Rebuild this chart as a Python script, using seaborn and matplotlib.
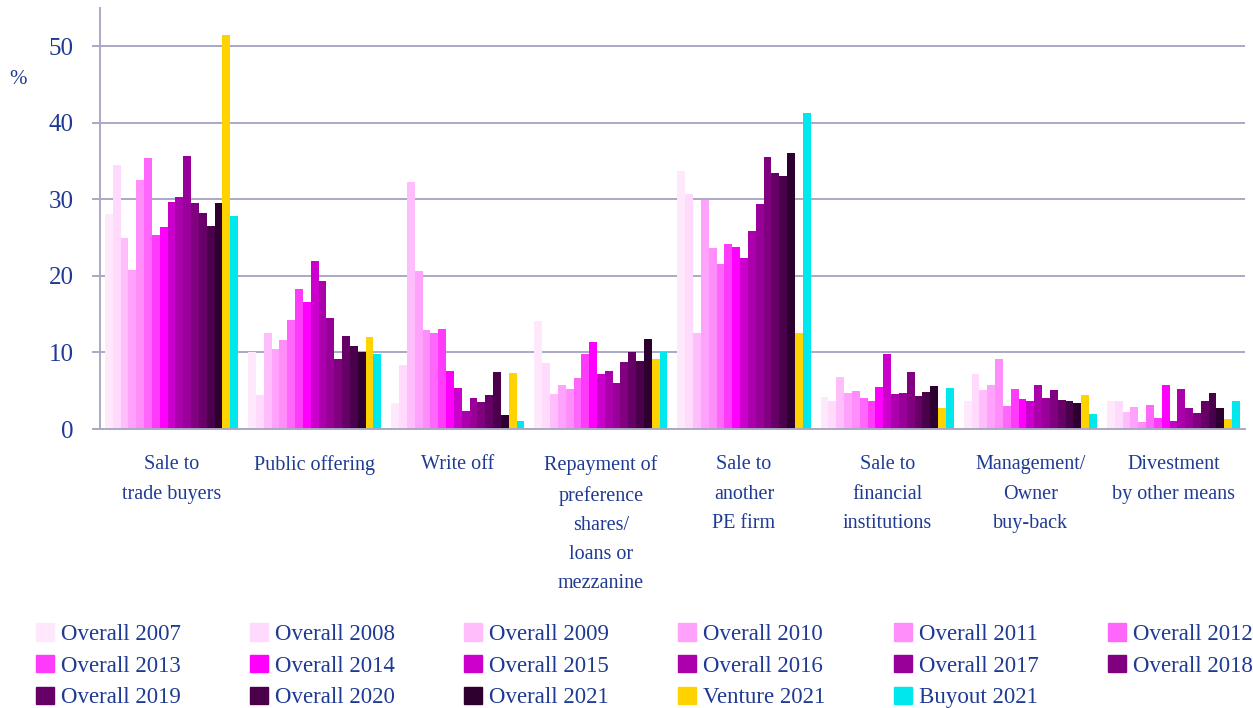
import matplotlib
matplotlib.use("Agg")
import matplotlib.pyplot as plt
import matplotlib.patches as mpatches
import numpy as np
import pandas as pd
import seaborn as sns

# ── Data ──────────────────────────────────────────────────────────────────────

categories = [
    "Sale to\ntrade buyers",
    "Public offering",
    "Write off",
    "Repayment of\npreference\nshares/\nloans or\nmezzanine",
    "Sale to\nanother\nPE firm",
    "Sale to\nfinancial\ninstitutions",
    "Management/\nOwner\nbuy-back",
    "Divestment\nby other means",
]

series = [
    "Overall 2007", "Overall 2008", "Overall 2009", "Overall 2010",
    "Overall 2011", "Overall 2012", "Overall 2013", "Overall 2014",
    "Overall 2015", "Overall 2016", "Overall 2017", "Overall 2018",
    "Overall 2019", "Overall 2020", "Overall 2021", "Venture 2021",
    "Buyout 2021",
]

# one list per exit route, one value per series (same order as `series`)
trade_buyers = [28.1, 34.5, 24.9, 20.8, 32.5, 35.4, 25.3, 26.4, 29.6, 30.3, 35.7, 29.5, 28.2, 26.5, 29.5, 51.5, 27.8]
public_offer = [10.0, 4.4, 12.5, 10.5, 11.6, 14.3, 18.3, 16.6, 21.9, 19.3, 14.5, 9.1, 12.1, 10.9, 10.1, 12.0, 9.8]
write_off    = [3.4, 8.3, 32.3, 20.6, 12.9, 12.6, 13.0, 7.6, 5.3, 2.3, 4.0, 3.5, 4.4, 7.4, 1.8, 7.3, 1.0]
repayment    = [14.1, 8.6, 4.6, 5.7, 5.2, 6.7, 9.8, 11.4, 7.2, 7.6, 6.0, 8.7, 10.0, 8.9, 11.8, 9.2, 10.0]
pe_firm      = [33.7, 30.7, 12.5, 29.9, 23.6, 21.5, 24.1, 23.8, 22.3, 25.9, 29.4, 35.5, 33.4, 33.0, 36.1, 12.6, 41.2]
fin_inst     = [4.2, 3.6, 6.8, 4.7, 5.0, 4.1, 3.7, 5.5, 9.8, 4.6, 4.7, 7.4, 4.3, 4.8, 5.6, 2.7, 5.4]
buy_back     = [3.7, 7.2, 5.1, 5.7, 9.2, 3.0, 5.2, 3.9, 3.7, 5.8, 4.0, 5.1, 3.8, 3.6, 3.4, 4.4, 2.0]
other_means  = [3.7, 3.7, 2.2, 2.9, 0.9, 3.2, 1.4, 5.8, 1.0, 5.2, 2.7, 2.1, 3.7, 4.7, 2.7, 1.3, 3.6]

colors = [
    "#FFE8FC", "#FFDAFC", "#FFBEFB", "#FFA2FB", "#FF8EFB", "#FF66FC",
    "#FF3BFB", "#FF00FF", "#CC00CC", "#AB00AB", "#990099", "#800080",
    "#660066", "#4B004B", "#2E0030", "#FFD300", "#00E8EE",
]

TEXT = "#1F3A93"
AXIS = "#A9A9C6"

# ── Build long table ──────────────────────────────────────────────────────────

values = [trade_buyers, public_offer, write_off, repayment,
          pe_firm, fin_inst, buy_back, other_means]
rows = []
for cat, vals in zip(categories, values):
    for s, v in zip(series, vals):
        rows.append({"route": cat, "series": s, "pct": v})
df = pd.DataFrame(rows)

# ── Plot ──────────────────────────────────────────────────────────────────────

sns.set_theme(style="white")
plt.rcParams["font.family"] = ["Liberation Serif", "DejaVu Serif"]

fig = plt.figure(figsize=(12.53, 7.08), dpi=100)
ax = fig.add_axes([0.0798, 0.394, 0.9138, 0.595])

sns.barplot(
    data=df, x="route", y="pct", hue="series",
    order=categories, hue_order=series, palette=colors,
    width=0.93, gap=0, saturation=1, linewidth=0,
    errorbar=None, legend=False, ax=ax,
)

ax.set_ylim(0, 55)
ax.set_xlim(-0.5, len(categories) - 0.5)
ax.set_yticks(np.arange(0, 51, 10))
ax.yaxis.grid(True, color=AXIS, linewidth=1.4)
ax.set_axisbelow(True)
ax.set_xlabel("")
ax.set_ylabel("")

for side in ["top", "right"]:
    ax.spines[side].set_visible(False)
for side in ["left", "bottom"]:
    ax.spines[side].set_color(AXIS)
    ax.spines[side].set_linewidth(1.4)

ax.tick_params(axis="y", left=True, length=6, width=1.4, color=AXIS,
               pad=13, labelsize=18, labelcolor=TEXT)
ax.tick_params(axis="x", bottom=False, pad=13, labelsize=14.5, labelcolor=TEXT)
for lbl in ax.get_xticklabels():
    lbl.set_verticalalignment("top")
    lbl.set_linespacing(1.72)

fig.text(18 / 1253, 1 - 80 / 708, "%", color=TEXT, fontsize=15,
         ha="center", va="center")

# Legend laid out row by row (6 columns)
handles = [mpatches.Patch(color=c, label=s) for s, c in zip(series, colors)]
order = []
for j in range(6):
    for i in range(3):
        k = j + 6 * i
        if k < len(handles):
            order.append(k)
fig.legend(
    [handles[k] for k in order], [series[k] for k in order],
    ncol=6, loc="upper left", bbox_to_anchor=(36 / 1253, 1 - 623 / 708, 1 - 36 / 1253, 0.0),
    mode="expand", frameon=False, fontsize=16.5, labelcolor=TEXT,
    handlelength=0.8, handleheight=0.8, handletextpad=0.3,
    labelspacing=0.44, borderaxespad=0, borderpad=0,
)

fig.savefig("out.png", dpi=100)
plt.close(fig)
